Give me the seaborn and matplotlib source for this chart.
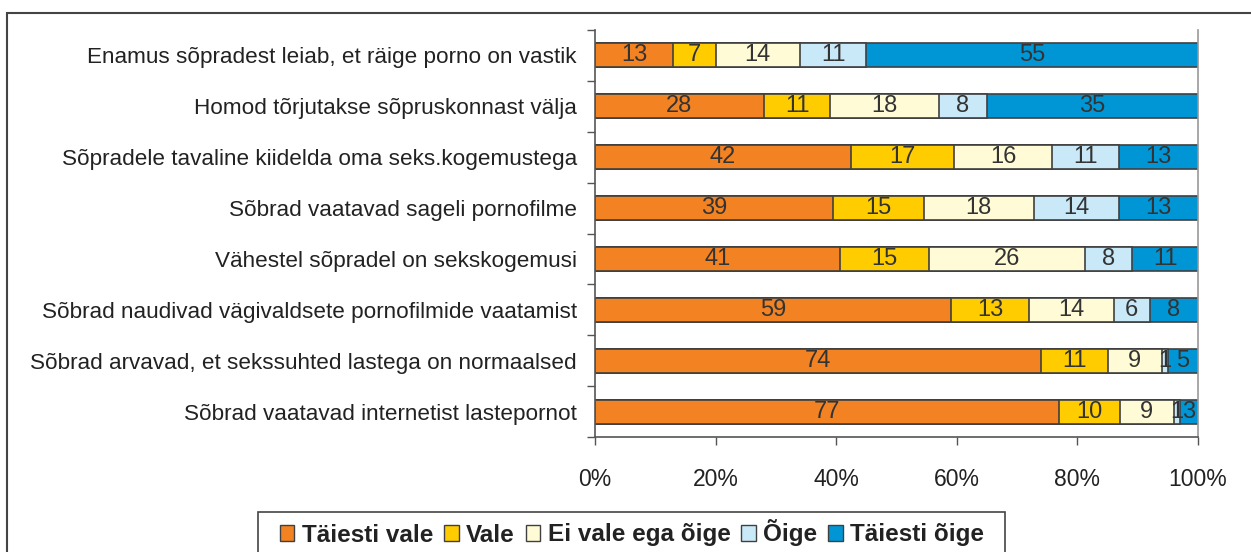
import numpy as np
import pandas as pd
import seaborn as sns
import matplotlib.pyplot as plt
from matplotlib.patches import Rectangle, Patch

categories = [
    'Enamus sõpradest leiab, et räige porno on vastik',
    'Homod tõrjutakse sõpruskonnast välja',
    'Sõpradele tavaline kiidelda oma seks.kogemustega',
    'Sõbrad vaatavad sageli pornofilme',
    'Vähestel sõpradel on sekskogemusi',
    'Sõbrad naudivad vägivaldsete pornofilmide vaatamist',
    'Sõbrad arvavad, et sekssuhted lastega on normaalsed',
    'Sõbrad vaatavad internetist lastepornot',
]
series = ['Täiesti vale', 'Vale', 'Ei vale ega õige', 'Õige', 'Täiesti õige']
taiesti_vale = [13, 28, 42, 39, 41, 59, 74, 77]
vale = [7, 11, 17, 15, 15, 13, 11, 10]
ei_vale_ega_oige = [14, 18, 16, 18, 26, 14, 9, 9]
oige = [11, 8, 11, 14, 8, 6, 1, 1]
taiesti_oige = [55, 35, 13, 13, 11, 8, 5, 3]
colors = ['#F28222', '#FFCC00', '#FFFBD6', '#C9E8F8', '#0096D6']

sns.set_theme(style='white')
plt.rcParams['font.family'] = ['Liberation Sans', 'DejaVu Sans']

df = pd.DataFrame({'kategooria': categories, 'Täiesti vale': taiesti_vale, 'Vale': vale,
                   'Ei vale ega õige': ei_vale_ega_oige, 'Õige': oige,
                   'Täiesti õige': taiesti_oige})
vals = df[series].to_numpy(dtype=float)
pct = vals / vals.sum(axis=1, keepdims=True) * 100
cum = np.cumsum(pct, axis=1)

fig = plt.figure(figsize=(12.51, 5.52), dpi=100)
ax = fig.add_axes([595 / 1251, 1 - 437 / 552, (1198 - 595) / 1251, (437 - 30) / 552])

# stacked bars: draw cumulative totals from the last series backwards
for i in range(len(series) - 1, -1, -1):
    d = pd.DataFrame({'kategooria': categories, 'x': cum[:, i]})
    sns.barplot(data=d, x='x', y='kategooria', color=colors[i], orient='h',
                width=0.47, edgecolor='#404040', linewidth=1.2, saturation=1, ax=ax)

for r in range(len(categories)):
    for i in range(len(series)):
        mid = cum[r, i] - pct[r, i] / 2
        ax.text(mid, r, f'{int(vals[r, i])}', ha='center', va='center',
                fontsize=17, color='#333333')

ax.set_xlim(0, 100)
ax.set_ylim(7.5, -0.5)
ax.set_xticks(range(0, 101, 20))
ax.set_xticklabels([f'{t}%' for t in range(0, 101, 20)], fontsize=16.5, color='#222222')
ax.set_yticks(range(len(categories)))
ax.set_yticklabels(categories, fontsize=16.2, color='#222222')
ax.set_yticks(np.arange(-0.5, 8, 1), minor=True)
ax.tick_params(axis='y', which='major', length=0, pad=13)
ax.tick_params(axis='y', which='minor', length=6, width=1, color='#555555', left=True)
ax.tick_params(axis='x', length=6, width=1, color='#555555', bottom=True, pad=16)
ax.set_xlabel('')
ax.set_ylabel('')
for s in ['left', 'bottom']:
    ax.spines[s].set_color('#555555')
    ax.spines[s].set_linewidth(1.2)
ax.spines['right'].set_color('#999999')
ax.spines['right'].set_linewidth(1.2)
ax.spines['top'].set_visible(False)

# outer chart frame and legend frame
fig.patches.append(Rectangle((7 / 1251, -0.1), 1.2, 1 - 13 / 552 + 0.1,
                             transform=fig.transFigure, fill=False,
                             edgecolor='#444444', linewidth=1.5))
fig.patches.append(Rectangle((258 / 1251, -0.1), (1005 - 258) / 1251, 1 - 512 / 552 + 0.1,
                             transform=fig.transFigure, fill=False,
                             edgecolor='#444444', linewidth=1.2))

handles = [Patch(facecolor=c, edgecolor='#404040', linewidth=1) for c in colors]
leg = fig.legend(handles, series, loc='center', bbox_to_anchor=(632 / 1251, 1 - 533 / 552),
                 ncol=5, frameon=False, handlelength=0.6, handleheight=0.6,
                 handletextpad=0.3, columnspacing=0.45,
                 prop={'size': 17.5, 'weight': 'bold'})
for t in leg.get_texts():
    t.set_color('#222222')

plt.savefig('out.png', dpi=100)
